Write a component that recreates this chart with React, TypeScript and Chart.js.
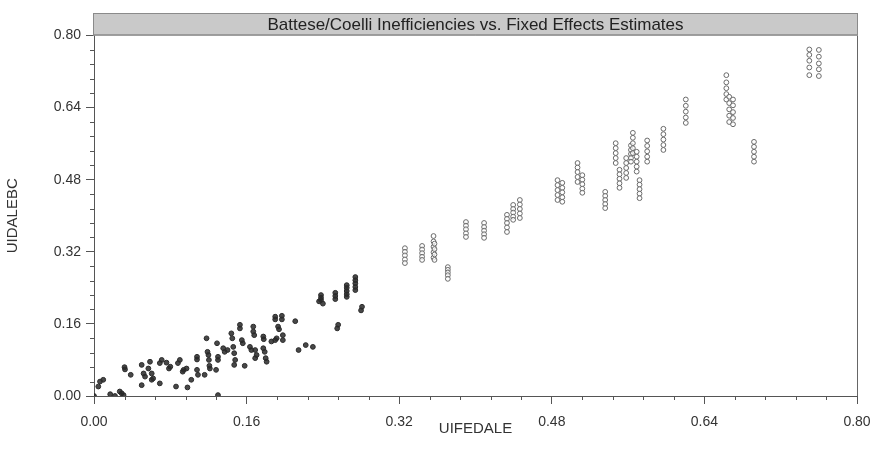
import React, { useEffect, useRef } from "react";
import { Chart, registerables } from "chart.js";

Chart.register(...registerables);

const chartTitle = "Battese/Coelli Inefficiencies vs. Fixed Effects Estimates";
const xAxisTitle = "UIFEDALE";
const yAxisTitle = "UIDALEBC";
const majorTicks = [0, 0.16, 0.32, 0.48, 0.64, 0.8];
const minorTicks = [
  0.032, 0.064, 0.096, 0.128, 0.192, 0.224, 0.256, 0.288, 0.352, 0.384, 0.416, 0.448,
  0.512, 0.544, 0.576, 0.608, 0.672, 0.704, 0.736, 0.768,
];

// UIFEDALE (fixed effects estimates)
const uifedale = [
  // lower-left swarm
  0.0, 0.0045, 0.0063, 0.0097, 0.017, 0.022, 0.027, 0.029, 0.031, 0.032,
  0.0325, 0.0385, 0.05, 0.05, 0.052, 0.0535, 0.057, 0.0587, 0.0605, 0.062,
  0.0605, 0.069, 0.071, 0.069, 0.076, 0.08, 0.0786, 0.086, 0.088, 0.09,
  0.093, 0.094, 0.097, 0.098, 0.102, 0.108, 0.108, 0.108, 0.109, 0.116,
  0.118, 0.119, 0.12, 0.1205, 0.121, 0.1215, 0.129, 0.13, 0.13, 0.128,
  0.13, 0.1355, 0.137, 0.14, 0.144, 0.145, 0.146, 0.147, 0.148, 0.147,
  0.153, 0.153, 0.155, 0.156, 0.158, 0.1635, 0.165, 0.167, 0.167, 0.168,
  0.169, 0.1705, 0.169, 0.1775, 0.178, 0.1775, 0.179, 0.18, 0.181, 0.186,
  0.19, 0.19, 0.19, 0.197, 0.197, 0.193, 0.194, 0.1915, 0.198, 0.198,
  0.211, 0.2145, 0.222, 0.2295, 0.236, 0.24, 0.255, 0.256, 0.28, 0.281,
  // 0.24 - 0.28
  0.238, 0.238, 0.238, 0.253, 0.253, 0.253,
  0.265, 0.265, 0.265, 0.265, 0.265,
  0.274, 0.274, 0.274, 0.274, 0.274,
  // 0.32 - 0.41
  0.326, 0.326, 0.326, 0.326, 0.326,
  0.344, 0.344, 0.344, 0.344, 0.344,
  0.356, 0.356, 0.356, 0.356, 0.356,
  0.357, 0.357, 0.357, 0.357,
  0.371, 0.371, 0.371, 0.371, 0.371,
  0.39, 0.39, 0.39, 0.39, 0.39,
  0.409, 0.409, 0.409, 0.409, 0.409,
  // 0.43 - 0.45
  0.433, 0.433, 0.433, 0.433, 0.433,
  0.4395, 0.4395, 0.4395, 0.4395, 0.4395,
  0.4465, 0.4465, 0.4465, 0.4465, 0.4465,
  // 0.48 - 0.60
  0.486, 0.486, 0.486, 0.486, 0.486,
  0.491, 0.491, 0.491, 0.491, 0.491,
  0.507, 0.507, 0.507, 0.507, 0.507,
  0.512, 0.512, 0.512, 0.512, 0.512,
  0.536, 0.536, 0.536, 0.536, 0.536,
  0.547, 0.547, 0.547, 0.547, 0.547,
  0.551, 0.551, 0.551, 0.551, 0.551,
  0.558, 0.558, 0.558, 0.558, 0.558,
  0.563, 0.563, 0.563, 0.563, 0.563,
  0.565, 0.565, 0.565, 0.565, 0.565,
  0.569, 0.569, 0.569, 0.569, 0.569,
  0.572, 0.572, 0.572, 0.572, 0.572,
  0.58, 0.58, 0.58, 0.58, 0.58,
  0.597, 0.597, 0.597, 0.597, 0.597,
  // 0.62 - 0.76
  0.6205, 0.6205, 0.6205, 0.6205, 0.6205,
  0.663, 0.663, 0.663, 0.663, 0.663,
  0.666, 0.666, 0.666, 0.666, 0.666,
  0.67, 0.67, 0.67, 0.67, 0.67,
  0.692, 0.692, 0.692, 0.692, 0.692,
  0.75, 0.75, 0.75, 0.75, 0.75,
  0.76, 0.76, 0.76, 0.76, 0.76,
];

// UIDALEBC (Battese/Coelli inefficiencies)
const uidalebc = [
  // lower-left swarm
  0.0, 0.021, 0.032, 0.036, 0.004, 0.0, 0.01, 0.006, 0.002, 0.064,
  0.059, 0.047, 0.069, 0.024, 0.05, 0.043, 0.061, 0.076, 0.05, 0.039,
  0.036, 0.073, 0.08, 0.028, 0.074, 0.065, 0.061, 0.021, 0.073, 0.08,
  0.054, 0.058, 0.061, 0.019, 0.036, 0.087, 0.081, 0.058, 0.047, 0.047,
  0.128, 0.098, 0.091, 0.08, 0.067, 0.061, 0.117, 0.087, 0.08, 0.058,
  0.002, 0.106, 0.098, 0.102, 0.139, 0.128, 0.109, 0.095, 0.08, 0.069,
  0.158, 0.15, 0.124, 0.117, 0.067, 0.109, 0.102, 0.154, 0.143, 0.135,
  0.102, 0.091, 0.084, 0.132, 0.126, 0.106, 0.098, 0.084, 0.076, 0.121,
  0.124, 0.176, 0.17, 0.178, 0.17, 0.154, 0.148, 0.128, 0.135, 0.124,
  0.166, 0.102, 0.113, 0.109, 0.21, 0.205, 0.15, 0.158, 0.19, 0.198,
  // 0.24 - 0.28
  0.224, 0.218, 0.213, 0.229, 0.222, 0.215,
  0.246, 0.24, 0.233, 0.226, 0.22,
  0.264, 0.257, 0.25, 0.242, 0.235,
  // 0.32 - 0.41
  0.328, 0.32, 0.312, 0.303, 0.295,
  0.333, 0.325, 0.317, 0.309, 0.302,
  0.355, 0.343, 0.331, 0.319, 0.307,
  0.338, 0.326, 0.314, 0.302,
  0.286, 0.28, 0.274, 0.268, 0.26,
  0.386, 0.378, 0.37, 0.361, 0.353,
  0.384, 0.375, 0.367, 0.359, 0.351,
  // 0.43 - 0.45
  0.402, 0.393, 0.384, 0.374, 0.364,
  0.424, 0.415, 0.407, 0.398, 0.391,
  0.435, 0.425, 0.415, 0.405, 0.395,
  // 0.48 - 0.60
  0.479, 0.468, 0.457, 0.446, 0.435,
  0.473, 0.462, 0.452, 0.441, 0.431,
  0.517, 0.507, 0.497, 0.486, 0.475,
  0.49, 0.48, 0.47, 0.46, 0.451,
  0.453, 0.444, 0.435, 0.426, 0.417,
  0.561, 0.55, 0.539, 0.528, 0.517,
  0.502, 0.492, 0.482, 0.472, 0.462,
  0.528, 0.517, 0.506, 0.495, 0.484,
  0.556, 0.546, 0.537, 0.528, 0.52,
  0.584, 0.573, 0.561, 0.55, 0.539,
  0.542, 0.531, 0.52, 0.509, 0.498,
  0.479, 0.469, 0.459, 0.449, 0.439,
  0.567, 0.555, 0.543, 0.531, 0.52,
  0.593, 0.581, 0.569, 0.557, 0.546,
  // 0.62 - 0.76
  0.658, 0.644, 0.631, 0.618, 0.606,
  0.712, 0.696, 0.683, 0.67, 0.658,
  0.664, 0.65, 0.636, 0.622, 0.608,
  0.658, 0.645, 0.63, 0.617, 0.603,
  0.564, 0.553, 0.542, 0.531, 0.52,
  0.769, 0.757, 0.744, 0.729, 0.712,
  0.768, 0.753, 0.738, 0.725, 0.71,
];

const FONT = '"Liberation Sans", Arial, sans-serif';

const framePlugin = {
  id: "framePlugin",
  afterDraw(chart: any) {
    const { ctx, chartArea } = chart;
    const { left, right, top, bottom } = chartArea;
    const xs = chart.scales.x;
    const ys = chart.scales.y;
    ctx.save();
    // right frame line
    ctx.strokeStyle = "#666";
    ctx.lineWidth = 1;
    ctx.beginPath();
    ctx.moveTo(Math.round(right) + 0.5, top);
    ctx.lineTo(Math.round(right) + 0.5, bottom);
    ctx.stroke();
    // minor ticks
    ctx.strokeStyle = "#555";
    ctx.beginPath();
    for (const v of minorTicks) {
      const px = Math.round(xs.getPixelForValue(v)) + 0.5;
      ctx.moveTo(px, bottom);
      ctx.lineTo(px, bottom + 4);
      const py = Math.round(ys.getPixelForValue(v)) + 0.5;
      ctx.moveTo(left - 4, py);
      ctx.lineTo(left, py);
    }
    ctx.stroke();
    // title bar
    const barTop = top - 22.5;
    ctx.fillStyle = "#c9c9c9";
    ctx.fillRect(left - 1, barTop, right - left + 1, top - barTop);
    ctx.strokeStyle = "#8a8a8a";
    ctx.strokeRect(left - 0.5, barTop + 0.5, right - left + 1, top - barTop - 1);
    ctx.beginPath();
    ctx.moveTo(left - 1, top - 0.5);
    ctx.lineTo(right + 1, top - 0.5);
    ctx.stroke();
    ctx.fillStyle = "#222";
    ctx.font = `17px ${FONT}`;
    ctx.textAlign = "center";
    ctx.textBaseline = "middle";
    ctx.fillText(chartTitle, (left + right) / 2, (barTop + top) / 2 + 1);
    ctx.restore();
  },
};

export default function App() {
  const canvasRef = useRef<HTMLCanvasElement | null>(null);

  useEffect(() => {
    if (!canvasRef.current) return;
    const points = uifedale.map((x, i) => ({ x, y: uidalebc[i] }));
    const chart = new Chart(canvasRef.current, {
      type: "scatter",
      data: {
        datasets: [
          {
            label: yAxisTitle,
            data: points,
            pointStyle: "circle",
            pointRadius: 2.4,
            pointBorderWidth: 1,
            pointBorderColor: (c: any) => (c.raw && c.raw.x < 0.3 ? "#2a2a2a" : "#6a6a6a"),
            pointBackgroundColor: (c: any) =>
              c.raw && c.raw.x < 0.3 ? "rgba(40,40,40,0.85)" : "rgba(255,255,255,0.7)",
          },
        ],
      },
      options: {
        animation: false,
        responsive: true,
        maintainAspectRatio: false,
        layout: { padding: { top: 35.5, right: 19, left: 8, bottom: 8 } },
        plugins: {
          legend: { display: false },
          tooltip: { enabled: false },
          title: { display: false },
        },
        scales: {
          x: {
            type: "linear",
            min: 0,
            max: 0.8,
            afterBuildTicks: (s: any) => {
              s.ticks = majorTicks.map((v) => ({ value: v }));
            },
            afterFit: (s: any) => {
              s.height = 62;
              s.paddingRight = 0;
              s.paddingLeft = 0;
            },
            ticks: {
              callback: (v: any) => Number(v).toFixed(2),
              color: "#333",
              font: { family: FONT, size: 14 },
              padding: 10,
              maxRotation: 0,
            },
            grid: {
              drawOnChartArea: false,
              drawTicks: true,
              tickLength: 8,
              tickColor: "#555",
            },
            border: { display: true, color: "#555", width: 1 },
            title: {
              display: true,
              text: xAxisTitle,
              color: "#333",
              font: { family: FONT, size: 15 },
              padding: { top: 0, bottom: 20 },
            },
          },
          y: {
            type: "linear",
            min: 0,
            max: 0.8,
            afterBuildTicks: (s: any) => {
              s.ticks = majorTicks.map((v) => ({ value: v }));
            },
            afterFit: (s: any) => {
              s.width = 86;
              s.paddingTop = 0;
              s.paddingBottom = 0;
            },
            ticks: {
              callback: (v: any) => Number(v).toFixed(2),
              color: "#333",
              font: { family: FONT, size: 14 },
              padding: 5,
            },
            grid: {
              drawOnChartArea: false,
              drawTicks: true,
              tickLength: 8,
              tickColor: "#555",
            },
            border: { display: true, color: "#555", width: 1 },
            title: {
              display: true,
              text: yAxisTitle,
              color: "#333",
              font: { family: FONT, size: 15, lineHeight: 0.7 },
              padding: { top: 0, bottom: 0 },
            },
          },
        },
      },
      plugins: [framePlugin],
    } as any);
    return () => chart.destroy();
  }, []);

  return (
    <div style={{ position: "absolute", left: 0, top: 0, width: 876, height: 466 }}>
      <canvas ref={canvasRef} />
    </div>
  );
}
